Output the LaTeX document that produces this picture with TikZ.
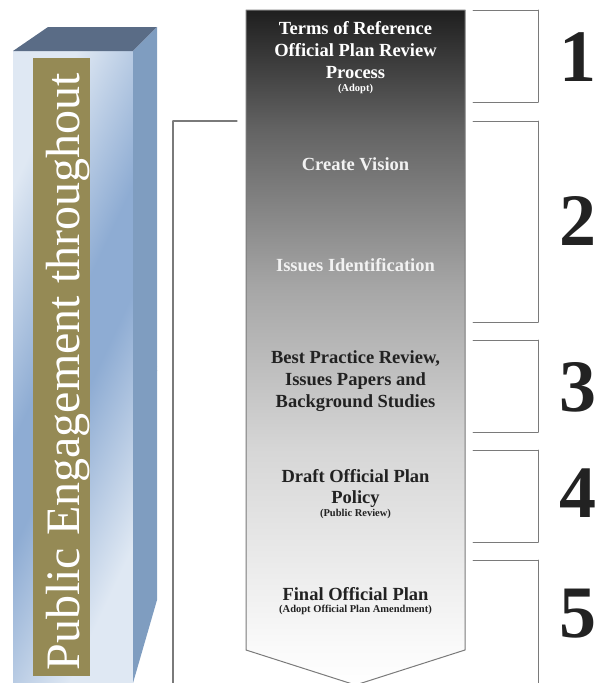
\documentclass[tikz,border=0pt]{standalone}
\usepackage{fontspec}
\setmainfont{Liberation Serif}
\usepackage{tikz}
\usepackage{tkz-euclide}
\usepackage{xcolor}
\usetikzlibrary{positioning}

\definecolor{boxlight}{HTML}{DFE8F3}
\definecolor{boxdark}{HTML}{8EACD3}
\definecolor{boxside}{HTML}{7F9DC0}
\definecolor{boxtop}{HTML}{5A6C86}
\definecolor{gold}{HTML}{958A55}
\definecolor{frame}{HTML}{7A7A7A}
\definecolor{inkdark}{HTML}{222222}
\definecolor{inklight}{HTML}{F2F2F2}
\definecolor{arrowA}{gray}{0.12}
\definecolor{arrowB}{gray}{0.39}
\definecolor{arrowC}{gray}{0.65}
\definecolor{arrowD}{gray}{0.84}
\definecolor{arrowE}{gray}{0.98}

\pgfdeclarehorizontalshading{frontshade}{100bp}{color(0bp)=(boxlight); color(27bp)=(boxlight);
  color(46bp)=(boxdark); color(54bp)=(boxdark); color(73bp)=(boxlight); color(100bp)=(boxlight)}
\pgfdeclareverticalshading{arrowshade}{100bp}{color(0bp)=(white); color(25bp)=(white);
  color(27.75bp)=(arrowE); color(42.5bp)=(arrowD); color(54.5bp)=(arrowC);
  color(66.1bp)=(arrowB); color(75bp)=(arrowA); color(100bp)=(arrowA)}

\tikzset{
  stage/.style={font=\bfseries\fontsize{18.5}{22.5}\selectfont, anchor=base, inner sep=0pt},
  note/.style={font=\bfseries\fontsize{10.5}{12}\selectfont, anchor=base, inner sep=0pt},
  phase/.style={font=\bfseries\fontsize{74}{74}\selectfont, text=inkdark, inner sep=0pt},
}

\begin{document}
\begin{tikzpicture}[x=1pt,y=-1pt]
    \useasboundingbox (0,0) rectangle (600,683);
    \clip (0,0) rectangle (600,683);
    % box
    \tkzDefPoints{13/51/F1,133/51/F2,133/683/F3,13/683/F4,48/27/K1,157/27/K2,157/600/K3}
    \tkzDefPoints{33/58/G1,90/676/G2}
    % arrow
    \tkzDefPoints{246/10/A1,465/10/A2,465/650/A3,355.5/685/A4,246/650/A5}
    % brackets
    \tkzDefPoints{237/121/L1,173/121/L2,173/690/L3}
    \tkzDefPoints{473/10/P1,538/10/Q1,538/102/S1,473/102/T1,
      473/121/P2,538/121/Q2,538/322/S2,473/322/T2,
      473/340/P3,538/340/Q3,538/432/S3,473/432/T3,
      473/450/P4,538/450/Q4,538/542/S4,473/542/T4,
      473/560/P5,538/560/Q5,538/690/S5}
    \node[text=black!60, font=\fontsize{11}{11}\selectfont, inner sep=0pt] (tmark) at (156,368) {t};
    \tkzDrawSegments[color=frame, line width=1.3pt](L1,L2 L2,L3)
    \shade[shading=frontshade, shading angle=-25] (F1) rectangle (F3);
    \tkzFillPolygon[color=boxtop](F1,K1,K2,F2)
    \tkzFillPolygon[color=boxside](F2,K2,K3,F3)
    \fill[gold] (G1) rectangle (G2);
    \node[rotate=90, anchor=base, text=white, font=\fontsize{48}{48}\selectfont, inner sep=0pt]
      (engage) at (79,372) {Public Engagement throughout};
    \shade[shading=arrowshade] (A1) -- (A2) -- (A3) -- (A4) -- (A5) -- cycle;
    \tkzDrawPolygon[color=frame, line width=1pt](A1,A2,A3,A4,A5)
    % stage texts
    \node[stage, text=white] (tor1) at (355.5,34) {Terms of Reference};
    \node[stage, text=white] (tor2) at (355.5,56) {Official Plan Review};
    \node[stage, text=white] (tor3) at (355.5,78) {Process};
    \node[note, text=white] (tor4) at (355.5,91) {(Adopt)};
    \node[stage, text=inklight] (vision) at (355.5,170) {Create Vision};
    \node[stage, text=inklight] (issues) at (355.5,271) {Issues Identification};
    \node[stage, text=inkdark] (best1) at (355.5,363) {Best Practice Review,};
    \node[stage, text=inkdark] (best2) at (355.5,385) {Issues Papers and};
    \node[stage, text=inkdark] (best3) at (355.5,407) {Background Studies};
    \node[stage, text=inkdark] (draft1) at (355.5,482) {Draft Official Plan};
    \node[stage, text=inkdark] (draft2) at (355.5,503) {Policy};
    \node[note, text=inkdark] (draft3) at (355.5,516) {(Public Review)};
    \node[stage, text=inkdark] (final1) at (355.5,600) {Final Official Plan};
    \node[note, text=inkdark] (final2) at (355.5,612) {(Adopt Official Plan Amendment)};
    % phase brackets
    \tkzDrawSegments[color=frame, line width=1pt](P1,Q1 Q1,S1 S1,T1 P2,Q2 Q2,S2 S2,T2
      P3,Q3 Q3,S3 S3,T3 P4,Q4 Q4,S4 S4,T4 P5,Q5 Q5,S5)
    \node[phase] (n1) at (578,57) {1};
    \node[phase] (n2) at (578,221) {2};
    \node[phase] (n3) at (578,387) {3};
    \node[phase] (n4) at (578,493) {4};
    \node[phase] (n5) at (578,614) {5};
\end{tikzpicture}
\end{document}
